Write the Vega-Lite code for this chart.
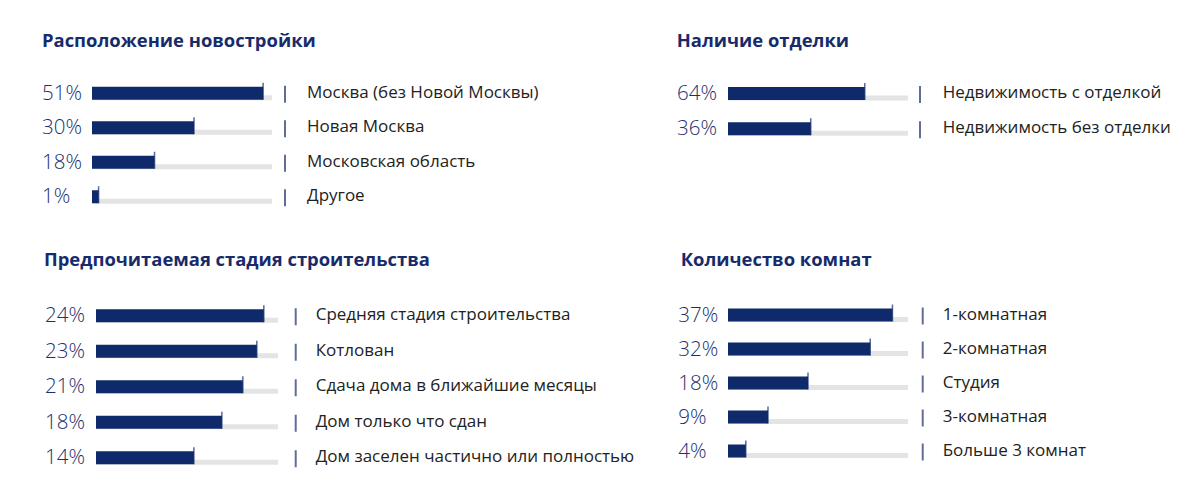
{
  "$schema": "https://vega.github.io/schema/vega-lite/v6.json",
  "background": "white",
  "padding": {"left": 42, "top": 31, "right": 5, "bottom": 5},
  "config": {"view": {"stroke": null}, "font": "Open Sans"},
  "datasets": {
    "rows": [
      {"panel": "P1", "category": "Москва (без Новой Москвы)", "value": 0.51},
      {"panel": "P1", "category": "Новая Москва", "value": 0.30},
      {"panel": "P1", "category": "Московская область", "value": 0.18},
      {"panel": "P1", "category": "Другое", "value": 0.01},
      {"panel": "P2", "category": "Недвижимость с отделкой", "value": 0.64},
      {"panel": "P2", "category": "Недвижимость без отделки", "value": 0.36},
      {"panel": "P3", "category": "Средняя стадия строительства", "value": 0.24},
      {"panel": "P3", "category": "Котлован", "value": 0.23},
      {"panel": "P3", "category": "Сдача дома в ближайшие месяцы", "value": 0.21},
      {"panel": "P3", "category": "Дом только что сдан", "value": 0.18},
      {"panel": "P3", "category": "Дом заселен частично или полностью", "value": 0.14},
      {"panel": "P4", "category": "1-комнатная", "value": 0.37},
      {"panel": "P4", "category": "2-комнатная", "value": 0.32},
      {"panel": "P4", "category": "Студия", "value": 0.18},
      {"panel": "P4", "category": "3-комнатная", "value": 0.09},
      {"panel": "P4", "category": "Больше 3 комнат", "value": 0.04}
    ]
  },
  "data": {"name": "rows"},
  "bounds": "flush",
  "columns": 2,
  "spacing": {"row": 84, "column": 450},
  "concat": [
    {
      "width": 180, "height": 138,
      "title": {"text": "Расположение новостройки", "anchor": "start", "frame": "group", "dx": -50, "offset": 10.75, "baseline": "alphabetic", "fontSize": 18.4, "font": "Open Sans", "fontWeight": "bold", "color": "#172b6b"},
      "transform": [{"filter": "datum.panel === 'P1'"}],
      "encoding": {"y": {"field": "category", "type": "nominal", "sort": {"field": "value", "order": "descending"}, "axis": null, "scale": {"paddingInner": 0, "paddingOuter": 0}}},
      "layer": [
        {"mark": {"type": "bar", "orient": "horizontal", "height": 5, "yOffset": 4.5, "color": "#e4e4e4"}, "encoding": {"x": {"value": 0}, "x2": {"value": "width"}}},
        {"mark": {"type": "bar", "orient": "horizontal", "height": 13, "color": "#0e2a6b"}, "encoding": {"x": {"field": "value", "type": "quantitative", "scale": {"domain": [-0.01, 0.537], "nice": false, "zero": false}, "axis": null}, "x2": {"datum": -0.01}}},
        {"mark": {"type": "tick", "orient": "vertical", "size": 17, "thickness": 1.5, "yOffset": -2, "color": "#0e2a6b"}, "encoding": {"x": {"field": "value", "type": "quantitative"}}},
        {"mark": {"type": "tick", "orient": "vertical", "size": 17, "thickness": 2, "yOffset": 1, "xOffset": 13, "color": "#1c2f6e"}, "encoding": {"x": {"value": "width"}}},
        {"mark": {"type": "text", "align": "left", "baseline": "alphabetic", "dx": -50, "dy": 6.5, "fontSize": 20.5, "font": "Open Sans", "fontWeight": 300, "color": "#1c2f6e"}, "encoding": {"x": {"value": 0}, "text": {"field": "value", "format": ".0%"}}},
        {"mark": {"type": "text", "align": "left", "baseline": "alphabetic", "dx": 35, "dy": 4.5, "fontSize": 17, "font": "Open Sans", "color": "#222222"}, "encoding": {"x": {"value": "width"}, "text": {"field": "category"}}}
      ]
    },
    {
      "width": 180, "height": 70.4,
      "title": {"text": "Наличие отделки", "anchor": "start", "frame": "group", "dx": -51.3, "offset": 10.75, "baseline": "alphabetic", "fontSize": 18.4, "font": "Open Sans", "fontWeight": "bold", "color": "#172b6b"},
      "transform": [{"filter": "datum.panel === 'P2'"}],
      "encoding": {"y": {"field": "category", "type": "nominal", "sort": {"field": "value", "order": "descending"}, "axis": null, "scale": {"paddingInner": 0, "paddingOuter": 0}}},
      "layer": [
        {"mark": {"type": "bar", "orient": "horizontal", "height": 5, "yOffset": 4.5, "color": "#e4e4e4"}, "encoding": {"x": {"value": 0}, "x2": {"value": "width"}}},
        {"mark": {"type": "bar", "orient": "horizontal", "height": 13, "color": "#0e2a6b"}, "encoding": {"x": {"field": "value", "type": "quantitative", "scale": {"domain": [-0.069, 0.864], "nice": false, "zero": false}, "axis": null}, "x2": {"datum": -0.069}}},
        {"mark": {"type": "tick", "orient": "vertical", "size": 17, "thickness": 1.5, "yOffset": -2, "color": "#0e2a6b"}, "encoding": {"x": {"field": "value", "type": "quantitative"}}},
        {"mark": {"type": "tick", "orient": "vertical", "size": 17, "thickness": 2, "yOffset": 1, "xOffset": 12, "color": "#1c2f6e"}, "encoding": {"x": {"value": "width"}}},
        {"mark": {"type": "text", "align": "left", "baseline": "alphabetic", "dx": -51, "dy": 6.5, "fontSize": 20.5, "font": "Open Sans", "fontWeight": 300, "color": "#1c2f6e"}, "encoding": {"x": {"value": 0}, "text": {"field": "value", "format": ".0%"}}},
        {"mark": {"type": "text", "align": "left", "baseline": "alphabetic", "dx": 34.7, "dy": 4.5, "fontSize": 17, "font": "Open Sans", "color": "#222222"}, "encoding": {"x": {"value": "width"}, "text": {"field": "category"}}}
      ]
    },
    {
      "width": 186, "height": 177.5,
      "title": {"text": "Предпочитаемая стадия строительства", "anchor": "start", "frame": "group", "dx": -48, "offset": 13.3, "baseline": "alphabetic", "fontSize": 18.4, "font": "Open Sans", "fontWeight": "bold", "color": "#172b6b"},
      "transform": [{"filter": "datum.panel === 'P3'"}],
      "encoding": {"y": {"field": "category", "type": "nominal", "sort": {"field": "value", "order": "descending"}, "axis": null, "scale": {"paddingInner": 0, "paddingOuter": 0}}},
      "layer": [
        {"mark": {"type": "bar", "orient": "horizontal", "height": 5, "yOffset": 4.5, "xOffset": 4, "color": "#e4e4e4"}, "encoding": {"x": {"value": 0}, "x2": {"value": "width"}}},
        {"mark": {"type": "bar", "orient": "horizontal", "height": 13, "xOffset": 4, "color": "#0e2a6b"}, "encoding": {"x": {"field": "value", "type": "quantitative", "scale": {"domain": [0, 0.266], "nice": false}, "axis": null}}},
        {"mark": {"type": "tick", "orient": "vertical", "size": 17, "thickness": 1.5, "yOffset": -2, "xOffset": 4, "color": "#0e2a6b"}, "encoding": {"x": {"field": "value", "type": "quantitative"}}},
        {"mark": {"type": "tick", "orient": "vertical", "size": 17, "thickness": 2, "yOffset": 1, "xOffset": 17.7, "color": "#1c2f6e"}, "encoding": {"x": {"value": "width"}}},
        {"mark": {"type": "text", "align": "left", "baseline": "alphabetic", "dx": -47, "dy": 6.5, "fontSize": 20.5, "font": "Open Sans", "fontWeight": 300, "color": "#1c2f6e"}, "encoding": {"x": {"value": 0}, "text": {"field": "value", "format": ".0%"}}},
        {"mark": {"type": "text", "align": "left", "baseline": "alphabetic", "dx": 37.7, "dy": 4.5, "fontSize": 17, "font": "Open Sans", "color": "#222222"}, "encoding": {"x": {"value": "width"}, "text": {"field": "category"}}}
      ]
    },
    {
      "width": 180, "height": 170,
      "title": {"text": "Количество комнат", "anchor": "start", "frame": "group", "dx": -47.3, "offset": 13.3, "baseline": "alphabetic", "fontSize": 18.4, "font": "Open Sans", "fontWeight": "bold", "color": "#172b6b"},
      "transform": [{"filter": "datum.panel === 'P4'"}],
      "encoding": {"y": {"field": "category", "type": "nominal", "sort": {"field": "value", "order": "descending"}, "axis": null, "scale": {"paddingInner": 0, "paddingOuter": 0}}},
      "layer": [
        {"mark": {"type": "bar", "orient": "horizontal", "height": 5, "yOffset": 4.5, "color": "#e4e4e4"}, "encoding": {"x": {"value": 0}, "x2": {"value": "width"}}},
        {"mark": {"type": "bar", "orient": "horizontal", "height": 13, "color": "#0e2a6b"}, "encoding": {"x": {"field": "value", "type": "quantitative", "scale": {"domain": [0, 0.405], "nice": false}, "axis": null}}},
        {"mark": {"type": "tick", "orient": "vertical", "size": 17, "thickness": 1.5, "yOffset": -2, "color": "#0e2a6b"}, "encoding": {"x": {"field": "value", "type": "quantitative"}}},
        {"mark": {"type": "tick", "orient": "vertical", "size": 17, "thickness": 2, "yOffset": 1, "xOffset": 14.7, "color": "#1c2f6e"}, "encoding": {"x": {"value": "width"}}},
        {"mark": {"type": "text", "align": "left", "baseline": "alphabetic", "dx": -49.7, "dy": 6.5, "fontSize": 20.5, "font": "Open Sans", "fontWeight": 300, "color": "#1c2f6e"}, "encoding": {"x": {"value": 0}, "text": {"field": "value", "format": ".0%"}}},
        {"mark": {"type": "text", "align": "left", "baseline": "alphabetic", "dx": 34.7, "dy": 4.5, "fontSize": 17, "font": "Open Sans", "color": "#222222"}, "encoding": {"x": {"value": "width"}, "text": {"field": "category"}}}
      ]
    }
  ]
}
